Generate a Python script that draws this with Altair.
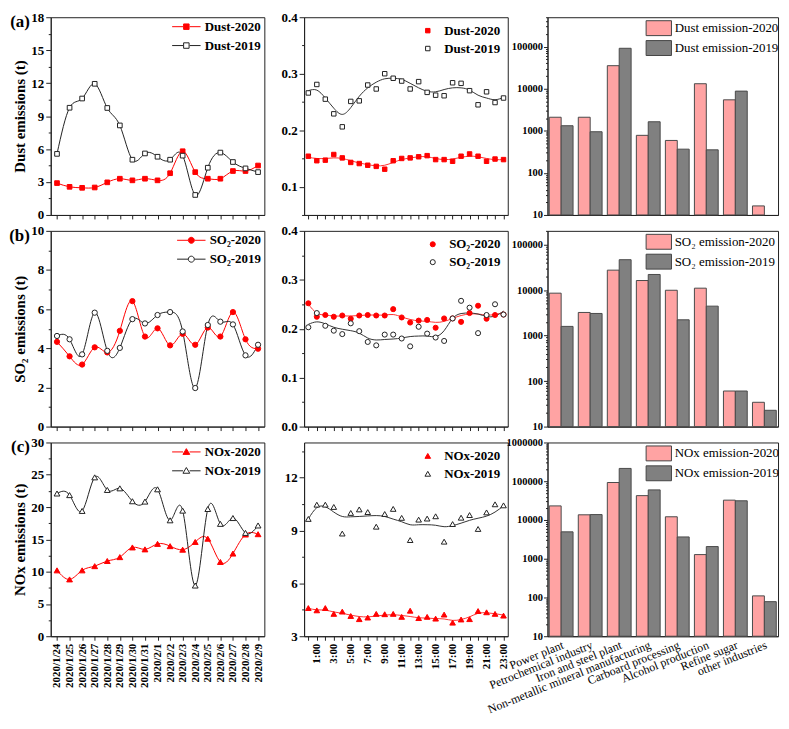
import altair as alt
import pandas as pd

# ---------------- data ----------------
dates = ["2020/1/24", "2020/1/25", "2020/1/26", "2020/1/27", "2020/1/28", "2020/1/29",
         "2020/1/30", "2020/1/31", "2020/2/1", "2020/2/2", "2020/2/3", "2020/2/4",
         "2020/2/5", "2020/2/6", "2020/2/7", "2020/2/8", "2020/2/9"]
hours = ["0:00", "1:00", "2:00", "3:00", "4:00", "5:00", "6:00", "7:00", "8:00", "9:00",
         "10:00", "11:00", "12:00", "13:00", "14:00", "15:00", "16:00", "17:00", "18:00",
         "19:00", "20:00", "21:00", "22:00", "23:00"]
categories = ["Power plant", "Petrochemical industry", "Iron and steel plant",
              "Non-metallic mineral manufacturing", "Carboard processing",
              "Alcohol production", "Refine sugar", "other industries"]

dust_2020_daily = [2.9, 2.56, 2.47, 2.5, 2.97, 3.3, 3.15, 3.3, 3.15, 3.8, 5.8, 3.9, 3.3, 3.3, 4.0, 4.0, 4.5]
dust_2019_daily = [5.56, 9.76, 10.6, 11.94, 9.74, 8.15, 5.03, 5.6, 5.3, 5.03, 5.4, 1.82, 4.3, 5.68, 4.82, 4.24, 3.9]
so2_2020_daily = [4.33, 3.59, 3.17, 4.05, 3.79, 4.89, 6.41, 4.6, 5.02, 4.15, 4.74, 4.18, 5.06, 4.6, 5.85, 4.46, 3.98]
so2_2019_daily = [4.63, 4.46, 3.69, 5.82, 3.87, 4.02, 5.49, 5.27, 5.7, 5.85, 4.86, 1.97, 5.19, 5.36, 5.22, 3.64, 4.18]
nox_2020_daily = [10.2, 8.8, 10.2, 10.85, 11.65, 12.25, 13.75, 13.45, 14.3, 13.95, 13.4, 14.6, 15.1, 11.5, 12.8, 15.75, 15.8]
nox_2019_daily = [22.1, 21.85, 19.4, 24.6, 22.65, 22.9, 20.9, 20.85, 22.75, 17.95, 19.45, 7.85, 19.7, 17.4, 18.3, 16.0, 17.15]

dust_2020_hourly = [0.154, 0.146, 0.147, 0.157, 0.151, 0.143, 0.141, 0.138, 0.136, 0.131, 0.146, 0.150,
                    0.151, 0.153, 0.155, 0.148, 0.148, 0.145, 0.154, 0.158, 0.154, 0.145, 0.149, 0.148]
dust_2019_hourly = [0.266, 0.281, 0.255, 0.229, 0.206, 0.251, 0.252, 0.280, 0.273, 0.300, 0.292, 0.287,
                    0.273, 0.286, 0.267, 0.262, 0.261, 0.284, 0.283, 0.270, 0.245, 0.268, 0.249, 0.257]
dust_2020_fit = [0.152, 0.150, 0.150, 0.151, 0.150, 0.146, 0.142, 0.139, 0.137, 0.138, 0.143, 0.148,
                 0.151, 0.153, 0.153, 0.150, 0.148, 0.149, 0.152, 0.154, 0.153, 0.150, 0.148, 0.148]
dust_2019_fit = [0.270, 0.271, 0.257, 0.239, 0.228, 0.240, 0.260, 0.275, 0.285, 0.291, 0.292, 0.290,
                 0.283, 0.275, 0.269, 0.268, 0.272, 0.275, 0.275, 0.271, 0.262, 0.257, 0.254, 0.258]

so2_2020_hourly = [0.252, 0.2245, 0.228, 0.2245, 0.227, 0.2205, 0.227, 0.228, 0.227, 0.227, 0.240, 0.223,
                   0.2126, 0.2166, 0.218, 0.202, 0.221, 0.221, 0.214, 0.232, 0.247, 0.2205, 0.228, 0.229]
so2_2019_hourly = [0.203, 0.232, 0.206, 0.196, 0.189, 0.211, 0.195, 0.173, 0.166, 0.188, 0.188, 0.180,
                   0.164, 0.204, 0.190, 0.182, 0.175, 0.221, 0.257, 0.243, 0.191, 0.228, 0.250, 0.229]
so2_2020_fit = [0.250, 0.232, 0.228, 0.226, 0.226, 0.226, 0.227, 0.228, 0.228, 0.228, 0.229, 0.224,
                0.219, 0.216, 0.215, 0.213, 0.215, 0.221, 0.227, 0.230, 0.230, 0.228, 0.229, 0.233]
so2_2019_fit = [0.209, 0.214, 0.210, 0.203, 0.199, 0.196, 0.191, 0.181, 0.177, 0.178, 0.179, 0.181,
                0.184, 0.185, 0.185, 0.184, 0.196, 0.221, 0.231, 0.232, 0.230, 0.225, 0.226, 0.236]

nox_2020_hourly = [4.6, 4.47, 4.6, 4.27, 4.4, 4.15, 3.97, 4.06, 4.27, 4.25, 4.27, 4.1,
                   4.45, 4.03, 4.1, 4.0, 4.23, 3.77, 3.95, 3.97, 4.43, 4.36, 4.27, 4.17]
nox_2019_hourly = [9.66, 10.47, 10.47, 10.34, 8.83, 10.0, 10.2, 10.05, 9.22, 9.94, 10.23, 9.72,
                   8.46, 9.62, 9.68, 9.81, 8.37, 9.37, 9.73, 9.88, 9.09, 10.03, 10.49, 10.43]
nox_2020_fit = [4.58, 4.5, 4.48, 4.38, 4.3, 4.2, 4.12, 4.1, 4.15, 4.2, 4.22, 4.18,
                4.12, 4.05, 4.03, 4.0, 3.98, 3.9, 3.95, 4.1, 4.3, 4.33, 4.28, 4.2]
nox_2019_fit = [9.66, 10.3, 10.35, 10.05, 9.8, 9.78, 9.8, 9.83, 9.85, 9.8, 9.65, 9.5,
                9.33, 9.33, 9.33, 9.3, 9.22, 9.28, 9.42, 9.58, 9.7, 9.82, 10.05, 10.4]

dust_bar_2020 = [2100, 2100, 35300, 780, 590, 13150, 5450, 16.4]
dust_bar_2019 = [1320, 950, 91400, 1640, 366, 353, 8770, None]
so2_bar_2020 = [8550, 3220, 27400, 16200, 9900, 11000, 60.5, 34.2]
so2_bar_2019 = [1590, 3060, 46500, 22000, 2220, 4430, 60.5, 22.8]
nox_bar_2020 = [23100, 13600, 92700, 42500, 12100, 1280, 32500, 110]
nox_bar_2019 = [4940, 13800, 214000, 59800, 3650, 2060, 31300, 78]

# ---------------- style ----------------
SERIF = "Liberation Serif"
RED = "#ff0000"
DARK = "#222222"
PINK = "#ffa3a3"
GRAY = "#808080"
W1, W2, W3 = 215, 205, 232
H = [199, 197, 195]


def minor_axis(lo, hi, minor, major, title, size=13, fmt=None):
    n = int(round((hi - lo) / minor))
    vals = [round(lo + i * minor, 4) for i in range(n + 1)]
    test = f"abs(datum.value/{major} - round(datum.value/{major})) > 0.0001"
    lab = f"format(datum.value, '{fmt}')" if fmt else "datum.label"
    return alt.Axis(values=vals, labelExpr=f"{test} ? '' : {lab}",
                    tickSize={"condition": {"test": test, "value": 2.5}, "value": 5},
                    labelFontSize=size, labelFontWeight="bold", labelOverlap=False,
                    labelFlush=False, labelPadding=2, title=title, titleFontSize=15,
                    titleFontWeight="bold", titlePadding=3)


def marker_path(shape):
    line = "M-2.6,0H-0.6M0.6,0H2.6"
    if shape == "square":
        return line + "M-0.5,-0.5H0.5V0.5H-0.5Z"
    if shape == "circle":
        return line + "M0.55,0A0.55,0.55 0 1,1 -0.55,0A0.55,0.55 0 1,1 0.55,0Z"
    return line + "M0,-0.6L0.62,0.45H-0.62Z"


def tag_layer(tag):
    return alt.Chart(pd.DataFrame({"t": [tag]})).mark_text(
        font=SERIF, fontSize=17, fontWeight="bold", align="right", baseline="middle"
    ).encode(text="t:N", x=alt.value(-21), y=alt.value(5))


def daily_panel(name, tag, v20, v19, shape, ymax, major, minor, ytitle, show_x, h, size):
    n20, n19 = f"{name}-2020", f"{name}-2019"
    df = pd.DataFrame({"date": dates + dates,
                       "series": [n20] * len(dates) + [n19] * len(dates),
                       "value": v20 + v19})
    xenc = alt.X("date:O", sort=dates, title=None,
                 scale=alt.Scale(type="point", padding=0.5),
                 axis=alt.Axis(labels=show_x, labelAngle=-90, labelFontSize=11,
                               labelFontWeight="bold", tickSize=4, labelPadding=3))
    yenc = alt.Y("value:Q", scale=alt.Scale(domain=[0, ymax], nice=False),
                 axis=minor_axis(0, ymax, minor, major, ytitle))
    strokes = alt.Scale(domain=[n20, n19], range=[RED, DARK])
    fills = alt.Scale(domain=[n20, n19], range=[RED, "white"])
    leg = alt.Legend(title=None, orient="top-right", offset=3, symbolType=marker_path(shape),
                     symbolSize=121, symbolStrokeWidth=1, labelFont=SERIF, labelFontSize=13,
                     labelFontWeight="bold", labelOffset=12, rowPadding=5, labelColor="black")
    base = alt.Chart(df)
    lines = base.mark_line(interpolate="natural", strokeWidth=1).encode(
        x=xenc, y=yenc, detail="series:N",
        stroke=alt.condition(alt.datum.series == n20, alt.value(RED), alt.value(DARK)))
    pts = base.mark_point(shape=shape, filled=True, opacity=1, size=size, strokeWidth=1).encode(
        x=xenc, y=yenc,
        fill=alt.Fill("series:N", scale=fills, legend=leg),
        stroke=alt.Stroke("series:N", scale=strokes, legend=leg))
    return alt.layer(lines, pts, tag_layer(tag)).properties(width=W1, height=h)


def hourly_panel(name, v20, v19, f20, f19, shape, lo, hi, major, minor, show_x, h, size):
    n20, n19 = f"{name}-2020", f"{name}-2019"
    df = pd.DataFrame({"hour": hours + hours,
                       "series": [n20] * len(hours) + [n19] * len(hours),
                       "value": v20 + v19, "fit": f20 + f19})
    xenc = alt.X("hour:O", sort=hours, title=None,
                 scale=alt.Scale(type="point", padding=0.5),
                 axis=alt.Axis(labels=show_x, labelAngle=-90, labelFontSize=11,
                               labelFontWeight="bold", tickSize=4, labelPadding=3,
                               labelExpr="toNumber(split(datum.label, ':')[0]) % 2 == 1 ? datum.label : ''"))
    fmt = ".1f" if major < 1 else "d"
    ax = minor_axis(lo, hi, minor, major, None, fmt=fmt)
    ysc = alt.Scale(domain=[lo, hi], nice=False, zero=False)
    strokes = alt.Scale(domain=[n20, n19], range=[RED, DARK])
    fills = alt.Scale(domain=[n20, n19], range=[RED, "white"])
    leg = alt.Legend(title=None, orient="top-right", offset=7, symbolSize=size,
                     symbolStrokeWidth=1, labelFont=SERIF, labelFontSize=13,
                     labelFontWeight="bold", labelOffset=10, rowPadding=4, labelColor="black",
                     symbolType=shape)
    base = alt.Chart(df)
    lines = base.mark_line(interpolate="natural", strokeWidth=1).encode(
        x=xenc, y=alt.Y("fit:Q", scale=ysc, axis=ax), detail="series:N",
        stroke=alt.condition(alt.datum.series == n20, alt.value("#ff3030"), alt.value("#333333")))
    pts = base.mark_point(shape=shape, filled=True, opacity=1, size=size, strokeWidth=1).encode(
        x=xenc, y=alt.Y("value:Q", scale=ysc, axis=ax),
        fill=alt.Fill("series:N", scale=fills, legend=leg),
        stroke=alt.Stroke("series:N", scale=strokes, legend=leg))
    return alt.layer(lines, pts).properties(width=W2, height=h)


def bar_panel(label, v20, v19, top, show_x, h):
    n20, n19 = f"{label} emission-2020", f"{label} emission-2019"
    rows = []
    for c, a, b in zip(categories, v20, v19):
        if a is not None:
            rows.append({"cat": c, "series": n20, "value": a})
        if b is not None:
            rows.append({"cat": c, "series": n19, "value": b})
    df = pd.DataFrame(rows)
    decades = [10, 100, 1000, 10000, 100000, 1000000]
    vals = [m * d for d in decades for m in range(1, 10) if m * d <= top]
    test = " && ".join(f"datum.value != {d}" for d in decades)
    yax = alt.Axis(values=vals, labelExpr=f"({test}) ? '' : format(datum.value, 'd')",
                   tickSize={"condition": {"test": test, "value": 2}, "value": 4},
                   labelFontSize=10.5, labelFontWeight="bold", labelOverlap=False,
                   labelFlush=False, labelPadding=1, title=None)
    xax = alt.Axis(labels=show_x, ticks=False, labelAngle=-22, labelAlign="right",
                   labelBaseline="top", labelFontSize=12, labelLimit=400, labelPadding=3,
                   labelColor="black")
    leg = alt.Legend(title=None, orient="none", legendX=W3 - 128, legendY=3,
                     symbolType="M-1.7,-1H1.7V1H-1.7Z", symbolSize=225,
                     symbolStrokeColor="#444444", symbolStrokeWidth=1,
                     labelFont=SERIF, labelFontSize=13, labelOffset=8, rowPadding=0,
                     labelColor="black")
    return alt.Chart(df).mark_bar(stroke="#4a4a4a", strokeWidth=1, opacity=1).encode(
        x=alt.X("cat:N", sort=categories, title=None,
                scale=alt.Scale(paddingInner=0.18, paddingOuter=0.06), axis=xax),
        xOffset=alt.XOffset("series:N", sort=[n20, n19], scale=alt.Scale(paddingInner=0)),
        y=alt.Y("value:Q", scale=alt.Scale(type="log", domain=[10, top], nice=False), axis=yax),
        y2=alt.Y2Datum(10),
        fill=alt.Fill("series:N", scale=alt.Scale(domain=[n20, n19], range=[PINK, GRAY]),
                      legend=leg),
    ).properties(width=W3, height=h)


a1 = daily_panel("Dust", "(a)", dust_2020_daily, dust_2019_daily, "square", 18, 3, 1.5,
                 "Dust emissions (t)", False, H[0], 22)
a2 = hourly_panel("Dust", dust_2020_hourly, dust_2019_hourly, dust_2020_fit, dust_2019_fit,
                  "square", 0.05, 0.4, 0.1, 0.05, False, H[0], 20)
a3 = bar_panel("Dust", dust_bar_2020, dust_bar_2019, 500000, False, H[0])

b1 = daily_panel("SO₂", "(b)", so2_2020_daily, so2_2019_daily, "circle", 10, 2, 1,
                 "SO₂ emissions (t)", False, H[1], 28)
b2 = hourly_panel("SO₂", so2_2020_hourly, so2_2019_hourly, so2_2020_fit, so2_2019_fit,
                  "circle", 0.0, 0.4, 0.1, 0.05, False, H[1], 26)
b3 = bar_panel("SO₂", so2_bar_2020, so2_bar_2019, 200000, False, H[1])

c1 = daily_panel("NOx", "(c)", nox_2020_daily, nox_2019_daily, "triangle-up", 30, 5, 2.5,
                 "NOx emissions (t)", True, H[2], 34)
c2 = hourly_panel("NOx", nox_2020_hourly, nox_2019_hourly, nox_2020_fit, nox_2019_fit,
                  "triangle-up", 3, 14, 3, 1.5, True, H[2], 32)
c3 = bar_panel("NOx", nox_bar_2020, nox_bar_2019, 1000000, True, H[2])

chart = alt.concat(a1, a2, a3, b1, b2, b3, c1, c2, c3, columns=3,
                   spacing={"row": 16, "column": 40}, bounds="flush").resolve_scale(
    x="independent", y="independent", fill="independent", stroke="independent",
    xOffset="independent"
).resolve_legend(fill="independent", stroke="independent").properties(
    padding={"left": 0, "top": 0, "right": 0, "bottom": 0}
).configure_view(stroke=DARK, strokeWidth=1).configure_axis(
    labelFont=SERIF, titleFont=SERIF, domainColor=DARK, tickColor=DARK,
    labelColor="black", titleColor="black", grid=False
)

chart.save("out.html", embed_options={"renderer": "svg", "actions": False})
